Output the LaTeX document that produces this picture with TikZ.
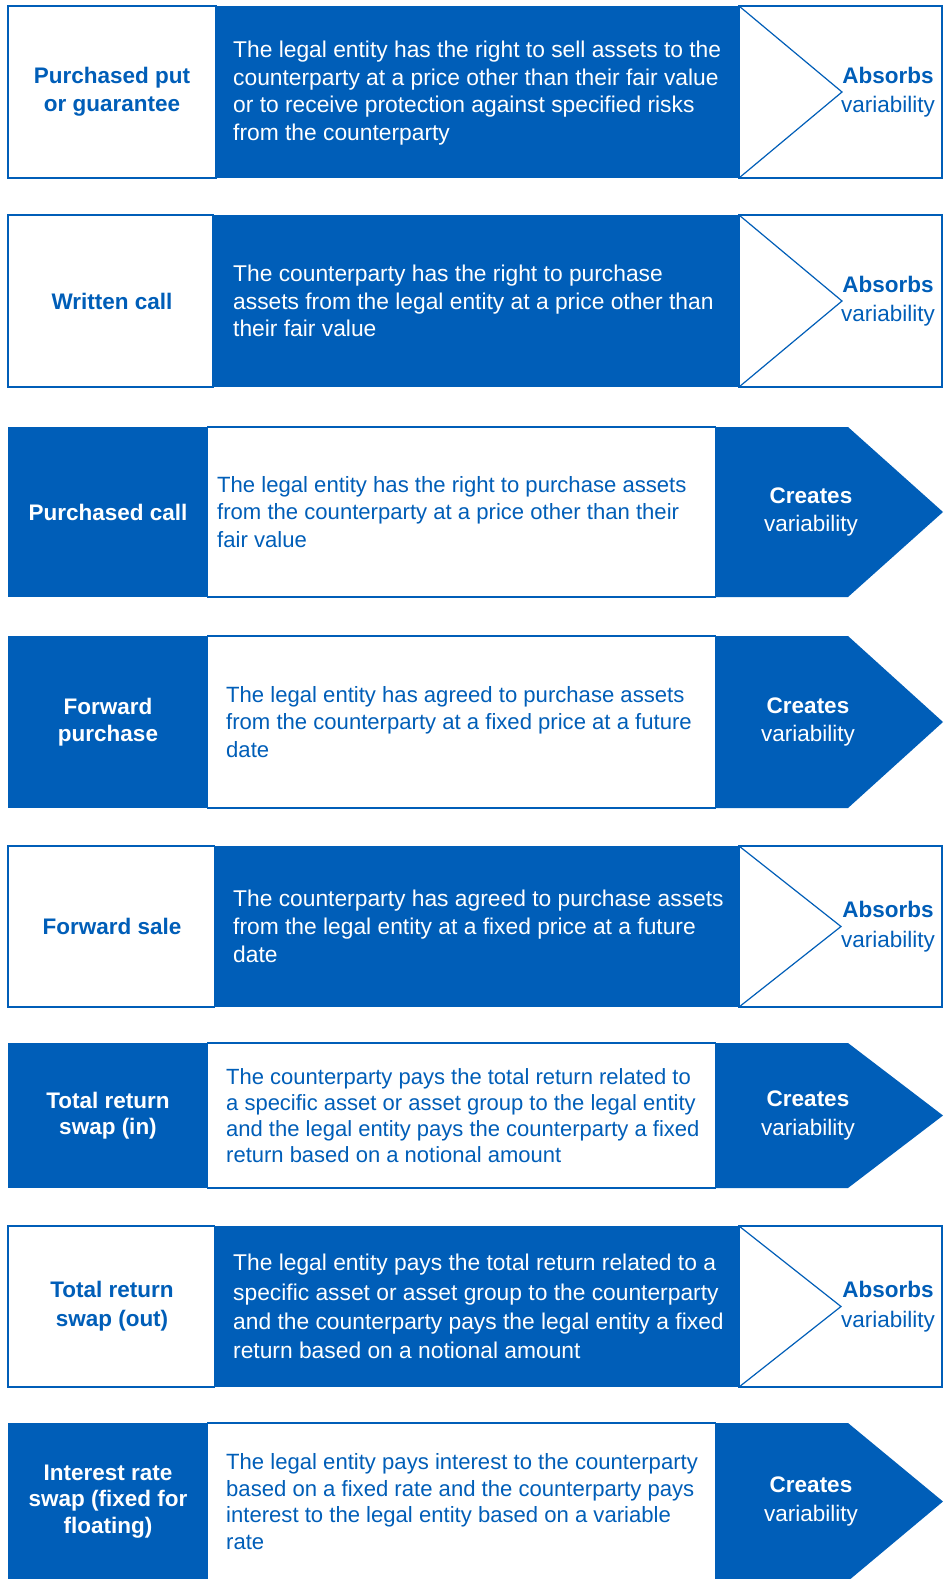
\documentclass[tikz,border=0pt]{standalone}
\usepackage{fontspec}
\setmainfont{Liberation Sans}
\definecolor{ecbblue}{RGB}{0,94,184}
\begin{document}
\begin{tikzpicture}[x=1pt,y=-1pt,
  frame/.style={draw=ecbblue,line width=1.2pt,fill=white},
  solid box/.style={fill=ecbblue},
  chev/.style={draw=ecbblue,line width=1.2pt},
  lblA/.style={text=ecbblue,font=\bfseries\fontsize{22.5}{28}\selectfont,align=center,inner sep=0},
  lblC/.style={text=white,font=\bfseries\fontsize{22.5}{27}\selectfont,align=center,inner sep=0},
  descA/.style={text=white,anchor=west,align=left,inner sep=0},
  descC/.style={text=ecbblue,anchor=west,align=left,inner sep=0},
  resA/.style={text=ecbblue,align=center,inner sep=0,font=\fontsize{22.5}{29.5}\selectfont},
  resC/.style={text=white,align=center,inner sep=0,font=\fontsize{22.5}{28.2}\selectfont}
]
\useasboundingbox (0,0) rectangle (943,1579);

% ---------- Row 1 (absorbs) ----------
\draw[frame] (8,6) rectangle (216,178);
\fill[solid box] (216,6) rectangle (739,178);
\draw[frame] (739,6) rectangle (942,178);
\draw[chev] (739,6) -- (842,92) -- (739,178);
\node[lblA] (l1) at (112,92) {Purchased put\\or guarantee};
\node[descA,font=\fontsize{22.8}{27.5}\selectfont] (d1) at (233,93) {The legal entity has the right to sell assets to the\\counterparty at a price other than their fair value\\or to receive protection against specified risks\\from the counterparty};
\node[resA] (r1) at (888,92) {\textbf{Absorbs}\\variability};

% ---------- Row 2 (absorbs) ----------
\draw[frame] (8,215) rectangle (213,387);
\fill[solid box] (213,215) rectangle (739,387);
\draw[frame] (739,215) rectangle (942,387);
\draw[chev] (739,215) -- (842,301) -- (739,387);
\node[lblA] (l2) at (112,301) {Written call};
\node[descA,font=\fontsize{22.8}{27.7}\selectfont] (d2) at (233,301) {The counterparty has the right to purchase\\assets from the legal entity at a price other than\\their fair value};
\node[resA] (r2) at (888,301) {\textbf{Absorbs}\\variability};

% ---------- Row 3 (creates) ----------
\fill[solid box] (8,427) rectangle (207.5,597);
\draw[frame] (207.5,427) rectangle (715.6,597);
\fill[solid box] (715.6,427) -- (848,427) -- (943,512) -- (848,597) -- (715.6,597) -- cycle;
\node[lblC] (l3) at (108,512) {Purchased call};
\node[descC,font=\fontsize{22.1}{27.2}\selectfont] (d3) at (217,512) {The legal entity has the right to purchase assets\\from the counterparty at a price other than their\\fair value};
\node[resC] (r3) at (811,512) {\textbf{Creates}\\variability};

% ---------- Row 4 (creates) ----------
\fill[solid box] (8,636) rectangle (207.5,808);
\draw[frame] (207.5,636) rectangle (715.6,808);
\fill[solid box] (715.6,636) -- (848,636) -- (943,722) -- (848,808) -- (715.6,808) -- cycle;
\node[lblC] (l4) at (108,722) {Forward\\purchase};
\node[descC,font=\fontsize{22.1}{27.2}\selectfont] (d4) at (226,722) {The legal entity has agreed to purchase assets\\from the counterparty at a fixed price at a future\\date};
\node[resC] (r4) at (808,722) {\textbf{Creates}\\variability};

% ---------- Row 5 (absorbs) ----------
\draw[frame] (8,846) rectangle (214.7,1007);
\fill[solid box] (214.7,846) rectangle (739,1007);
\draw[frame] (739,846) rectangle (942,1007);
\draw[chev] (739,846) -- (841,926.5) -- (739,1007);
\node[lblA] (l5) at (112,926.5) {Forward sale};
\node[descA,font=\fontsize{22.8}{28.2}\selectfont] (d5) at (233,926.5) {The counterparty has agreed to purchase assets\\from the legal entity at a fixed price at a future\\date};
\node[resA] (r5) at (888,926.5) {\textbf{Absorbs}\\variability};

% ---------- Row 6 (creates) ----------
\fill[solid box] (8,1043) rectangle (207.5,1188);
\draw[frame] (207.5,1043) rectangle (715.6,1188);
\fill[solid box] (715.6,1043) -- (848,1043) -- (943,1115.5) -- (848,1188) -- (715.6,1188) -- cycle;
\node[lblC,font=\bfseries\fontsize{22.5}{25.5}\selectfont] (l6) at (108,1115.5) {Total return\\swap (in)};
\node[descC,font=\fontsize{22}{26.2}\selectfont] (d6) at (226,1115.5) {The counterparty pays the total return related to\\a specific asset or asset group to the legal entity\\and the legal entity pays the counterparty a fixed\\return based on a notional amount};
\node[resC] (r6) at (808,1115.5) {\textbf{Creates}\\variability};

% ---------- Row 7 (absorbs) ----------
\draw[frame] (8,1226) rectangle (214.7,1387);
\fill[solid box] (214.7,1226) rectangle (739,1387);
\draw[frame] (739,1226) rectangle (942,1387);
\draw[chev] (739,1226) -- (841,1306.5) -- (739,1387);
\node[lblA,font=\bfseries\fontsize{22.5}{29}\selectfont] (l7) at (112,1306.5) {Total return\\swap (out)};
\node[descA,font=\fontsize{22.8}{29.2}\selectfont] (d7) at (233,1306.5) {The legal entity pays the total return related to a\\specific asset or asset group to the counterparty\\and the counterparty pays the legal entity a fixed\\return based on a notional amount};
\node[resA] (r7) at (888,1306.5) {\textbf{Absorbs}\\variability};

% ---------- Row 8 (creates) ----------
\fill[solid box] (8,1423) rectangle (207.5,1581);
\draw[frame] (207.5,1423) rectangle (715.6,1581);
\fill[solid box] (715.6,1423) -- (848,1423) -- (943,1501.5) -- (848,1581) -- (715.6,1581) -- cycle;
\node[lblC,font=\bfseries\fontsize{22.5}{26.2}\selectfont] (l8) at (108,1501.5) {Interest rate\\swap (fixed for\\floating)};
\node[descC,font=\fontsize{22.1}{26.5}\selectfont] (d8) at (226,1501.5) {The legal entity pays interest to the counterparty\\based on a fixed rate and the counterparty pays\\interest to the legal entity based on a variable\\rate};
\node[resC] (r8) at (811,1501.5) {\textbf{Creates}\\variability};
\end{tikzpicture}
\end{document}
